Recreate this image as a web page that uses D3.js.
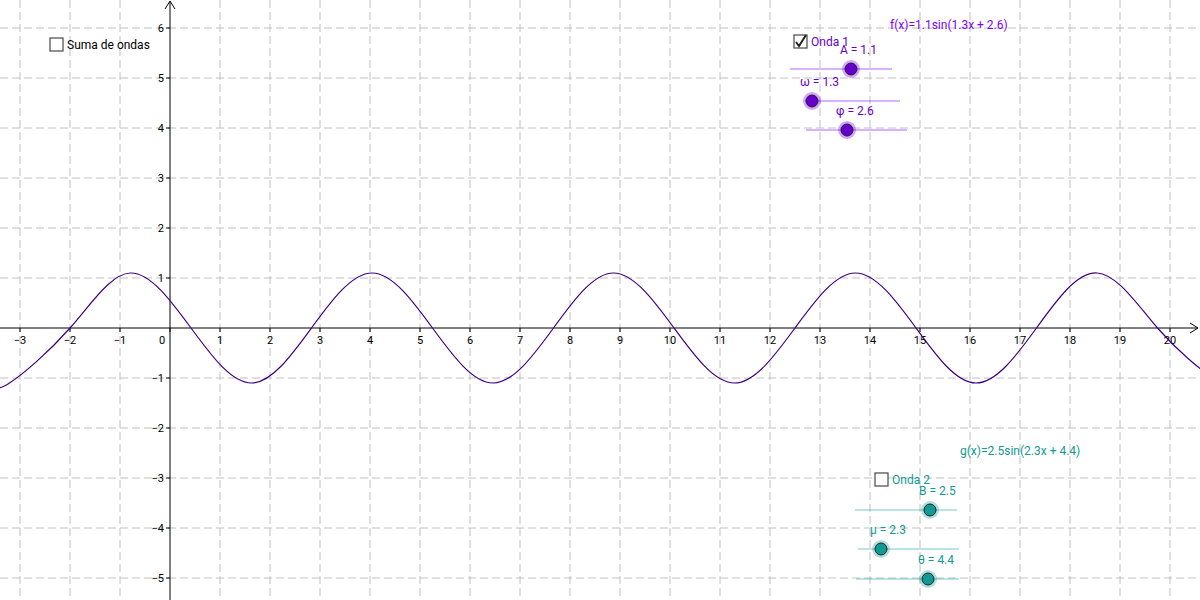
<!DOCTYPE html><html><head><meta charset="utf-8">
<script src="https://cdn.jsdelivr.net/npm/d3@7"></script>
<style>body{margin:0;background:#fff}svg{display:block;font-family:Roboto,sans-serif}</style></head><body>
<svg width="1200" height="600"></svg>
<script>
// read-off points of f(x)=1.1sin(1.3x+2.6): extrema and zero crossings
const curveX=[-3.45,-3.21,-2,-0.79,0.42,1.63,2.83,4.04,5.25,6.46,7.67,8.87,10.08,11.29,12.5,13.71,14.92,16.12,17.33,18.54,19.75,20.96];
const curveY=[-1.08,-1.1,0,1.1,0,-1.1,0,1.1,0,-1.1,0,1.1,0,-1.1,0,1.1,0,-1.1,0,1.1,0,-1.1];
const xTicks=[-3,-2,-1,0,1,2,3,4,5,6,7,8,9,10,11,12,13,14,15,16,17,18,19,20];
const yTicks=[-5,-4,-3,-2,-1,1,2,3,4,5,6];
const sliderLabels=["A = 1.1","ω = 1.3","φ = 2.6","B = 2.5","μ = 2.3","θ = 4.4"];
const sliderLineStart=[790,805,806,855,858,856];
const sliderLineEnd=[892,900,907,957,959,959];
const sliderKnob=[851,812,847,930,881,928];
const sliderY=[69,101,130,510,549,579];
const sliderLabelX=[840,800,836,919,870,918];
const sliderColor=["#7f00ff","#7f00ff","#7f00ff","#21a6a6","#21a6a6","#21a6a6"];
const knobFill=["#6600cc","#6600cc","#6600cc","#119a94","#119a94","#119a94"];

const svg=d3.select("svg");
const x=d3.scaleLinear().domain([0,20]).range([170,1170]);
const y=d3.scaleLinear().domain([0,6]).range([328,28]);
const grid=svg.append("g").attr("stroke","#c0c0c0").attr("stroke-dasharray","8,4");
d3.range(-3,21).forEach(v=>{ if(v!==0) grid.append("line").attr("x1",x(v)).attr("x2",x(v)).attr("y1",0).attr("y2",600);});
d3.range(-5,7).forEach(v=>{ if(v!==0) grid.append("line").attr("y1",y(v)).attr("y2",y(v)).attr("x1",0).attr("x2",1200);});
// axes
svg.append("line").attr("x1",0).attr("x2",1197).attr("y1",y(0)).attr("y2",y(0)).attr("stroke","#000");
svg.append("path").attr("d",`M1190,${y(0)-5}L1198,${y(0)}L1190,${y(0)+5}`).attr("fill","none").attr("stroke","#000");
svg.append("line").attr("x1",x(0)).attr("x2",x(0)).attr("y1",2).attr("y2",600).attr("stroke","#000");
svg.append("path").attr("d",`M${x(0)-5},9L${x(0)},1L${x(0)+5},9`).attr("fill","none").attr("stroke","#000");
const tf=svg.append("g").attr("font-size",11).attr("fill","#000");
xTicks.forEach(v=>{
  tf.append("line").attr("x1",x(v)).attr("x2",x(v)).attr("y1",y(0)).attr("y2",y(0)+4).attr("stroke","#000");
  tf.append("text").attr("x",v===0?x(v)-8:x(v)).attr("y",y(0)+16).attr("text-anchor","middle").text(v<0?"\u2212"+(-v):v);
});
yTicks.forEach(v=>{
  tf.append("line").attr("x1",x(0)-4).attr("x2",x(0)).attr("y1",y(v)).attr("y2",y(v)).attr("stroke","#000");
  tf.append("text").attr("x",x(0)-6).attr("y",y(v)+4).attr("text-anchor","end").text(v<0?"\u2212"+(-v):v);
});
// curve
const pts=curveX.map((d,i)=>[x(d),y(curveY[i])]);
svg.append("path").attr("d",d3.line().curve(d3.curveNatural)(pts)).attr("fill","none").attr("stroke","#3f007f").attr("stroke-width",1.2);
// checkboxes
function box(bx,by,label,checked,col){
  svg.append("rect").attr("x",bx).attr("y",by-7).attr("width",13).attr("height",13).attr("fill","#fff").attr("stroke","#555").attr("stroke-width",1.3);
  if(checked) svg.append("path").attr("d",`M${bx+2},${by}L${bx+5},${by+4}L${bx+12},${by-7}`).attr("fill","none").attr("stroke","#222").attr("stroke-width",2);
  svg.append("text").attr("x",bx+17).attr("y",by+4).attr("font-size",12).attr("fill",col).text(label);
}
box(50,45,"Suma de ondas",false,"#000");
box(794,42,"Onda 1",true,"#6600cc");
box(875,480,"Onda 2",false,"#119a94");
svg.append("text").attr("x",890).attr("y",29).attr("font-size",12).attr("fill","#7f00ff").text("f(x)=1.1sin(1.3x + 2.6)");
svg.append("text").attr("x",960).attr("y",455).attr("font-size",12).attr("fill","#119a94").text("g(x)=2.5sin(2.3x + 4.4)");
sliderLabels.forEach((l,i)=>{
  const g=svg.append("g");
  g.append("line").attr("x1",sliderLineStart[i]).attr("x2",sliderLineEnd[i]).attr("y1",sliderY[i]).attr("y2",sliderY[i]).attr("stroke",sliderColor[i]).attr("opacity",0.6);
  g.append("circle").attr("cx",sliderKnob[i]).attr("cy",sliderY[i]).attr("r",9).attr("fill",sliderColor[i]).attr("opacity",0.35);
  g.append("circle").attr("cx",sliderKnob[i]).attr("cy",sliderY[i]).attr("r",6).attr("fill",knobFill[i]).attr("stroke","#222").attr("stroke-width",1);
  g.append("text").attr("x",sliderLabelX[i]).attr("y",sliderY[i]-15).attr("font-size",12).attr("fill",knobFill[i]).text(l);
});
</script></body></html>
